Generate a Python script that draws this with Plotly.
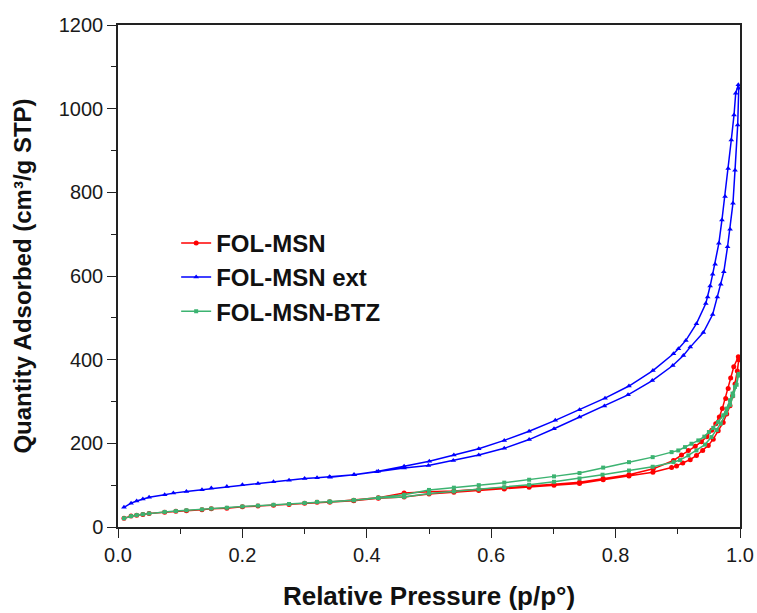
import plotly.graph_objects as go

# ---- data ----
ext_ads_p = [0.0096, 0.021, 0.030, 0.040, 0.050, 0.075, 0.089, 0.110, 0.135, 0.150, 0.175, 0.200, 0.225, 0.250,
             0.275, 0.300, 0.320, 0.340, 0.380, 0.416, 0.460, 0.499, 0.539, 0.580, 0.621, 0.661, 0.701, 0.742,
             0.782, 0.820, 0.859, 0.892, 0.909, 0.920, 0.941, 0.956, 0.9635, 0.969, 0.974, 0.980, 0.984, 0.9887,
             0.992, 0.9963, 0.998]
ext_ads_q = [47, 57, 62, 67, 71, 77, 81, 85, 89, 93, 97, 101, 104, 108,
             112, 116, 118, 120, 125, 132, 141, 147, 159, 172, 188, 209, 235, 263,
             289, 316, 350, 386, 410, 430, 465, 508, 550, 580, 610, 670, 712, 774,
             853, 961, 1049]
ext_des_p = [0.9973, 0.9931, 0.9904, 0.986, 0.981, 0.976, 0.971, 0.966, 0.960, 0.956, 0.952, 0.948, 0.945,
             0.930, 0.913, 0.901, 0.893, 0.860, 0.8215, 0.783, 0.742, 0.703, 0.661, 0.621, 0.580, 0.540,
             0.5005, 0.460, 0.4185, 0.379, 0.341]
ext_des_q = [1057, 1037, 985, 925, 857, 790, 734, 678, 628, 604, 576, 550, 534,
             486, 446, 426, 414, 374, 337, 308, 280, 255, 229, 207, 187, 172,
             157, 145, 133, 125, 119]

msn_ads_p = [0.0096, 0.021, 0.030, 0.040, 0.050, 0.075, 0.093, 0.110, 0.135, 0.150, 0.175, 0.200, 0.225, 0.250,
             0.275, 0.300, 0.320, 0.340, 0.379, 0.4185, 0.460, 0.500, 0.540, 0.580, 0.621, 0.661, 0.701, 0.742,
             0.780, 0.8215, 0.860, 0.890, 0.898, 0.908, 0.920, 0.930, 0.940, 0.949, 0.957, 0.965, 0.973, 0.9786,
             0.984, 0.988, 0.992, 0.9957, 0.998]
msn_ads_q = [21, 26, 28, 30, 32, 35, 37.5, 39, 41.5, 43.6, 45, 48.6, 50, 52,
             54, 56.7, 59, 60, 63, 69, 72, 79, 83, 87, 91, 95, 100, 104,
             113, 122, 131, 142, 146, 153, 161, 171, 183, 195, 210, 230, 250, 270,
             290, 313, 342, 373, 400]
msn_des_p = [0.9973, 0.990, 0.985, 0.981, 0.977, 0.9716, 0.9667, 0.961, 0.9545, 0.9465, 0.938, 0.928, 0.917,
             0.906, 0.893, 0.8606, 0.8215, 0.780, 0.742, 0.701, 0.661, 0.621, 0.580, 0.540, 0.500, 0.460,
             0.4185, 0.379, 0.341]
msn_des_q = [407, 383, 356, 331, 307, 283, 263, 247, 231, 216, 204, 193, 183,
             172, 159, 139, 125, 116, 107, 102, 98, 93, 89, 86, 84, 81,
             70, 64, 60]

btz_ads_p = [0.0096, 0.021, 0.030, 0.040, 0.050, 0.075, 0.093, 0.110, 0.135, 0.150, 0.175, 0.200, 0.225, 0.250,
             0.275, 0.300, 0.320, 0.340, 0.379, 0.4185, 0.460, 0.500, 0.540, 0.580, 0.621, 0.661, 0.701, 0.742,
             0.779, 0.8215, 0.8596, 0.893, 0.9035, 0.917, 0.930, 0.9437, 0.954, 0.9625, 0.969, 0.9775, 0.984,
             0.989, 0.9946, 0.998]
btz_ads_q = [21, 26, 28.5, 30.5, 32.5, 36, 38, 40, 42, 44, 46, 49, 51, 53,
             55, 57.5, 60, 61, 64, 69.5, 72, 80, 85, 90, 95, 101, 108, 116,
             125, 135, 144, 155, 160, 171, 183, 197, 215, 232, 247, 272, 292,
             314, 340, 366]
btz_des_p = [0.9973, 0.992, 0.988, 0.984, 0.9786, 0.973, 0.965, 0.957, 0.950, 0.9426, 0.933, 0.922, 0.9116,
             0.9008, 0.890, 0.8596, 0.8215, 0.780, 0.742, 0.701, 0.661, 0.621, 0.580, 0.540, 0.500, 0.460,
             0.4185, 0.379, 0.341]
btz_des_q = [362, 335, 319, 303, 283, 267, 251, 237, 227, 216, 207, 199, 191,
             183, 179, 167, 155, 142, 129, 121, 113, 106, 100, 94, 88.6, 77,
             70, 64, 60]

series = [
    ("FOL-MSN", msn_ads_p + msn_des_p, msn_ads_q + msn_des_q, "#FF0000", "circle", 5),
    ("FOL-MSN ext", ext_ads_p + ext_des_p, ext_ads_q + ext_des_q, "#0000FF", "triangle-up", 5),
    ("FOL-MSN-BTZ", btz_ads_p + btz_des_p, btz_ads_q + btz_des_q, "#3CB371", "square", 4),
]

fig = go.Figure()
for name, p, q, col, sym, sz in series:
    fig.add_trace(go.Scatter(
        x=p, y=q, name=name, mode="lines+markers",
        line=dict(color=col, width=1.5),
        marker=dict(color=col, symbol=sym, size=sz),
    ))

font_family = "Liberation Sans, Arial, sans-serif"
axis_common = dict(
    showline=True, linecolor="#222", linewidth=1.5, mirror=True,
    ticks="outside", ticklen=9, tickwidth=1.3, tickcolor="#222",
    showgrid=False, zeroline=False, automargin=False,
    tickfont=dict(family=font_family, size=20, color="#1a1a1a"),
)

fig.update_layout(
    width=757, height=613,
    margin=dict(l=118, r=17, t=25, b=86),
    paper_bgcolor="white", plot_bgcolor="white",
    font=dict(family=font_family, color="#111"),
    xaxis=dict(range=[0, 1.0], dtick=0.2, tickformat=".1f",
               minor=dict(dtick=0.1, ticks="outside", ticklen=5, tickcolor="#222"),
               title=dict(text="<b>Relative Pressure (p/p°)</b>", font=dict(size=26, family=font_family), standoff=22),
               **axis_common),
    yaxis=dict(range=[0, 1200], dtick=200,
               minor=dict(dtick=100, ticks="outside", ticklen=5, tickcolor="#222"),
               title=dict(text="<b>Quantity Adsorbed (cm³/g STP)</b>", font=dict(size=24, family=font_family), standoff=20),
               **axis_common),
    legend=dict(x=0.0935, y=0.61, xanchor="left", yanchor="top",
                font=dict(family=font_family, size=24, color="#111", weight="bold"),
                bgcolor="rgba(0,0,0,0)"),
    showlegend=True,
)

fig.write_html("out.html", config={"displayModeBar": False},
               post_script="document.body.style.margin='0';document.body.style.padding='0';")
